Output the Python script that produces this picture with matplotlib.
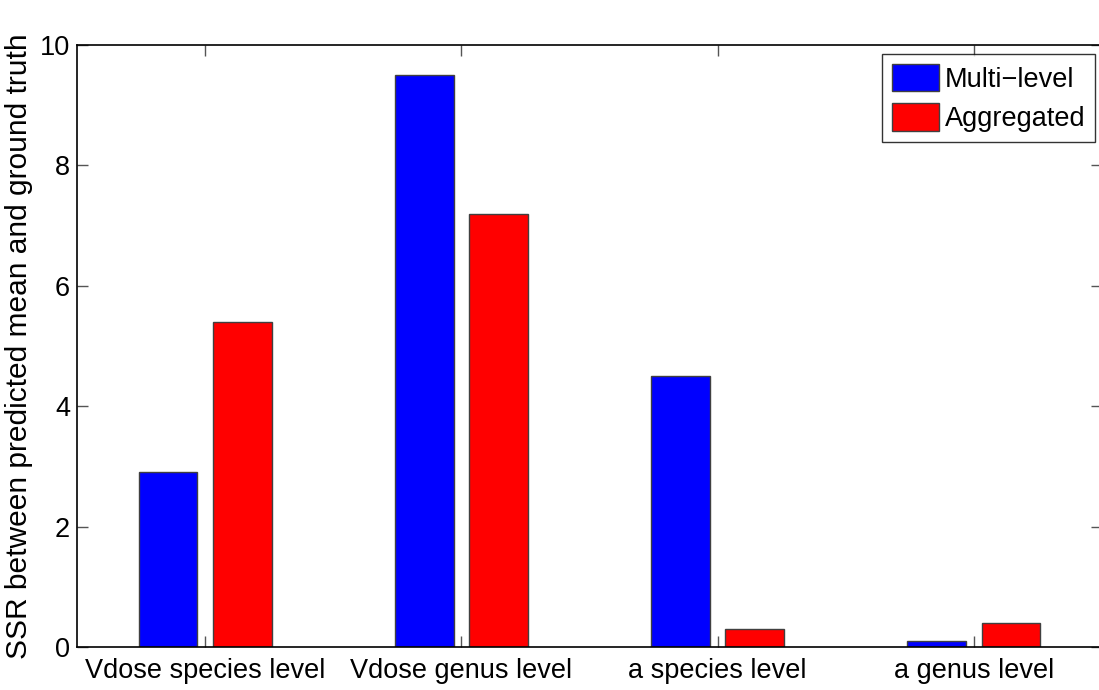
import numpy as np
import matplotlib.pyplot as plt

categories = ['Vdose species level', 'Vdose genus level', 'a species level', 'a genus level']
multi_level = [2.9, 9.5, 4.5, 0.1]
aggregated = [5.4, 7.2, 0.3, 0.4]
series_names = ['Multi\u2212level', 'Aggregated']
ylabel = 'SSR between predicted mean and ground truth'

plt.rcParams['font.family'] = ['Liberation Sans', 'DejaVu Sans']

fig = plt.figure(figsize=(10.99, 6.90), dpi=100)
ax = fig.add_axes([77 / 1099, 43 / 690, 1025 / 1099, 602 / 690])

x = np.arange(1, len(categories) + 1)
w = 0.23
ax.bar(x - 0.145, multi_level, w, color='#0000ff', edgecolor='#404040', linewidth=1.0,
       label=series_names[0])
ax.bar(x + 0.145, aggregated, w, color='#ff0000', edgecolor='#404040', linewidth=1.0,
       label=series_names[1])

ax.set_xlim(0.5, 4.5)
ax.set_ylim(0, 10)
ax.set_xticks(x)
ax.set_xticklabels(categories)
ax.set_yticks([0, 2, 4, 6, 8, 10])
ax.tick_params(direction='in', length=8, width=1, labelsize=19.5, color='#555555',
               top=True, right=True)
ax.tick_params(axis='x', pad=8)
ax.tick_params(axis='y', pad=5)
for s in ax.spines.values():
    s.set_linewidth(1.2)
ax.set_ylabel(ylabel, fontsize=21.5)
ax.yaxis.set_label_coords(-0.043, 0.5)

leg = ax.legend(loc='upper right', bbox_to_anchor=(0.993, 0.985), fontsize=19.5,
                frameon=True, fancybox=False, edgecolor='black', handlelength=1.75,
                handleheight=1.2, handletextpad=0.2, borderpad=0.35, labelspacing=0.4,
                borderaxespad=0)
leg.get_frame().set_linewidth(1.0)

fig.savefig('out.png', dpi=100)
